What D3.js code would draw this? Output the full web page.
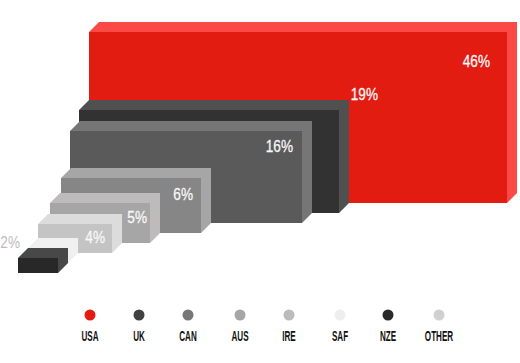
<!DOCTYPE html>
<html>
<head>
<meta charset="utf-8">
<script src="https://cdn.jsdelivr.net/npm/d3@7"></script>
<style>
  html, body { margin: 0; padding: 0; background: #fff; }
  svg { display: block; }
  text { font-family: "Liberation Sans", sans-serif; }
</style>
</head>
<body>
<div id="chart"></div>
<script>
const countries = ['USA', 'UK', 'CAN', 'AUS', 'OTHER', 'IRE', 'SAF', 'NZE'];
const shares = [46, 19, 16, 6, 5, 4, 2, 2];
const legendOrder = ['USA', 'UK', 'CAN', 'AUS', 'IRE', 'SAF', 'NZE', 'OTHER'];

const width = 520, height = 363, depth = 10;

const frontColor = d3.scaleOrdinal(countries, ['#e31c12', '#323232', '#5a5a5a', '#868686', '#a6a6a6', '#c4c4c4', '#f0f0f0', '#282828']);
const topColor = d3.scaleOrdinal(countries, ['#fb4a46', '#505050', '#767676', '#a6a6a6', '#bdbbbb', '#dcdcdc', '#f0f0f0', '#484848']);
const dotColor = d3.scaleOrdinal(countries, ['#e31c12', '#404040', '#777777', '#a6a6a6', '#d0d0d0', '#bbbbbb', '#eeeeee', '#2a2a2a']);

// the boxes aren't linear in the value, so the scales go through each step
let w = d3.scaleLinear().domain([2, 4, 5, 6, 16, 19, 46]).range([40, 74, 100, 140, 232, 260, 418]);
let h = d3.scaleLinear().domain([2, 4, 5, 6, 16, 19, 46]).range([15, 29, 40, 55, 92, 103, 171]);
let left = d3.scaleOrdinal(countries, [89, 79, 70, 61, 50, 38, 28, 18]);
let bottom = d3.scaleOrdinal(countries, [203, 213, 223, 233, 243, 253, 263, 273]);
let labelX = d3.scaleOrdinal(countries, [490, 378, 293, 193, 147, 105, 0, 20]);
let labelY = d3.scaleOrdinal(countries, [67, 100, 152, 200, 223, 243, 0, 248]);
let legendX = d3.scaleOrdinal(legendOrder, [90, 139, 188, 240, 289, 340, 388, 439]);

let svg = d3.select('#chart').append('svg')
  .attr('width', width)
  .attr('height', height);

let data = countries.map((c, i) => ({ country: c, share: shares[i] }));

let box = svg.selectAll('g.box')
  .data(data)
  .enter().append('g').attr('class', 'box');

box.append('path')
  .attr('fill', d => topColor(d.country))
  .attr('d', d => {
    let x0 = left(d.country), x1 = x0 + w(d.share), y0 = bottom(d.country) - h(d.share), y1 = bottom(d.country);
    return `M${x0},${y0}L${x0 + depth},${y0 - depth}L${x1 + depth},${y0 - depth}L${x1 + depth},${y1 - depth}L${x1},${y1}L${x1},${y0}Z`;
  });

box.append('rect')
  .attr('fill', d => frontColor(d.country))
  .attr('x', d => left(d.country))
  .attr('y', d => bottom(d.country) - h(d.share))
  .attr('width', d => w(d.share))
  .attr('height', d => h(d.share));

// no condensed font here, squeeze the text sideways instead. SAF gets no label in the original
svg.selectAll('text.share')
  .data(data.filter(d => d.country != 'SAF'))
  .enter().append('text')
  .attr('class', 'share')
  .attr('text-anchor', 'end')
  .attr('font-size', 17)
  .attr('fill', d => d.country == 'NZE' ? '#bdbdbd' : '#f8f8f8')
  .attr('stroke', d => d.country == 'NZE' ? 'none' : '#f8f8f8')
  .attr('stroke-width', 0.3)
  .attr('transform', d => `translate(${labelX(d.country)},${labelY(d.country)}) scale(0.8,1)`)
  .text(d => d.share + '%');

let key = svg.selectAll('g.key')
  .data(legendOrder)
  .enter().append('g').attr('class', 'key')
  .attr('transform', d => `translate(${legendX(d)},0)`);

key.append('circle')
  .attr('cy', 315)
  .attr('r', 5.5)
  .attr('fill', d => dotColor(d));

key.append('text')
  .attr('text-anchor', 'middle')
  .attr('font-size', 15)
  .attr('font-weight', 'bold')
  .attr('fill', '#111')
  .attr('transform', 'translate(0,340.5) scale(0.54,1)')
  .text(d => d);
</script>
</body>
</html>
